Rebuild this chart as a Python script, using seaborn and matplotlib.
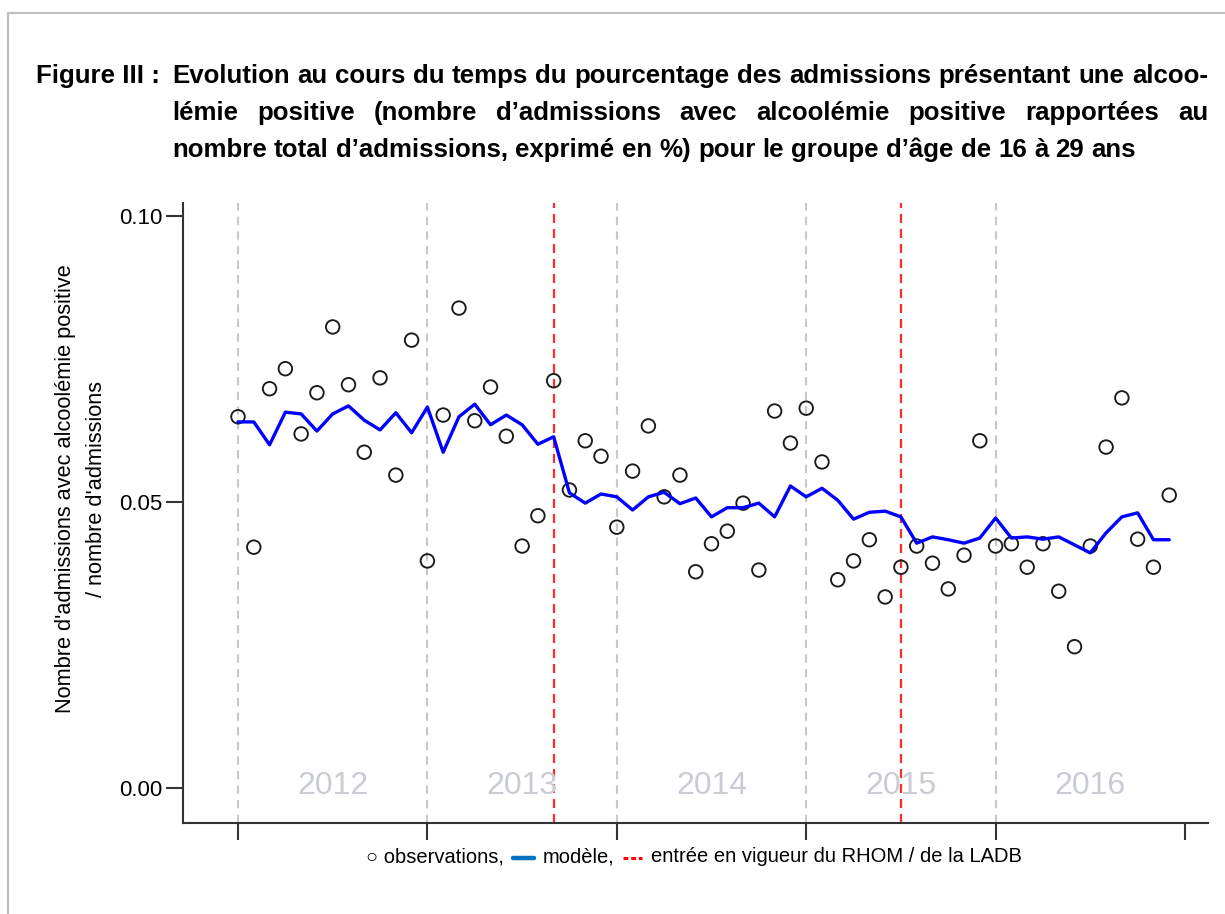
import numpy as np
import pandas as pd
import matplotlib
matplotlib.use("Agg")
import matplotlib.pyplot as plt
import seaborn as sns
from matplotlib.lines import Line2D

# ---------------- data ----------------
months = np.arange(60)  # Jan 2012 ... Dec 2016 (monthly)
observations = [0.0649, 0.0421, 0.0698, 0.0733, 0.0619, 0.0691, 0.0806, 0.0705, 0.0587, 0.0717,
                0.0547, 0.0783, 0.0397, 0.0652, 0.0839, 0.0642, 0.0701, 0.0615, 0.0423, 0.0476,
                0.0712, 0.0521, 0.0607, 0.0580, 0.0456, 0.0554, 0.0633, 0.0509, 0.0547, 0.0378,
                0.0427, 0.0449, 0.0498, 0.0381, 0.0659, 0.0603, 0.0664, 0.0570, 0.0364, 0.0397,
                0.0434, 0.0334, 0.0386, 0.0423, 0.0393, 0.0348, 0.0407, 0.0607, 0.0423, 0.0427,
                0.0386, 0.0427, 0.0344, 0.0247, 0.0423, 0.0596, 0.0682, 0.0435, 0.0386, 0.0512]
model = [0.0640, 0.0640, 0.0600, 0.0657, 0.0654, 0.0624, 0.0654, 0.0668, 0.0643, 0.0626,
         0.0656, 0.0621, 0.0666, 0.0587, 0.0649, 0.0671, 0.0635, 0.0652, 0.0635, 0.0601,
         0.0614, 0.0516, 0.0498, 0.0514, 0.0509, 0.0486, 0.0509, 0.0517, 0.0497, 0.0507,
         0.0474, 0.0490, 0.0490, 0.0498, 0.0474, 0.0528, 0.0509, 0.0524, 0.0503, 0.0470,
         0.0482, 0.0484, 0.0474, 0.0428, 0.0439, 0.0434, 0.0428, 0.0437, 0.0472, 0.0437,
         0.0439, 0.0435, 0.0439, 0.0425, 0.0411, 0.0446, 0.0474, 0.0481, 0.0434, 0.0434]
year_labels = ["2012", "2013", "2014", "2015", "2016"]
year_ticks = [2012, 2013, 2014, 2015, 2016, 2017]
y_ticks = [0.00, 0.05, 0.10]
y_tick_labels = ["0.00", "0.05", "0.10"]
law_dates = [2013 + 8 / 12, 2015 + 6 / 12]  # entrée en vigueur RHOM / LADB

title_prefix = "Figure III :"
title_lines = ["Evolution au cours du temps du pourcentage des admissions présentant une alcoo-",
               "lémie positive (nombre d’admissions avec alcoolémie positive rapportées au",
               "nombre total d’admissions, exprimé en %) pour le groupe d’âge de 16 à 29 ans"]
ylabel = "Nombre d'admissions avec alcoolémie positive\n/ nombre d'admissions"

df = pd.DataFrame({"time": 2012 + months / 12, "obs": observations, "model": model})

# ---------------- style ----------------
sns.set_theme(style="white")
plt.rcParams["font.family"] = ["Liberation Sans", "DejaVu Sans"]
plt.rcParams["lines.scale_dashes"] = False

W, H = 1225, 914
fig = plt.figure(figsize=(W / 100, H / 100), dpi=100)
fig.patch.set_facecolor("white")
renderer = fig.canvas.get_renderer()

ax = fig.add_axes([183 / W, 1 - 823 / H, (1208 - 183) / W, (823 - 203) / H])
ax.set_facecolor("white")

for yt in year_ticks[:-1]:
    ax.axvline(yt, color="#c8c8c8", lw=1.5, dashes=(6, 4.5), zorder=1)
for d in law_dates:
    ax.axvline(d, color="#ff2a2a", lw=1.6, dashes=(6.5, 4.3), zorder=1)
for yt, lab in zip(year_ticks[:-1], year_labels):
    ax.text(yt + 0.5, 0.0003, lab, ha="center", va="center", fontsize=23,
            color="#c9ccd2", zorder=1)

sns.scatterplot(data=df, x="time", y="obs", ax=ax, marker="o", s=95,
                facecolor="none", edgecolor="#1a1a1a", linewidth=1.35, zorder=3)
sns.lineplot(data=df, x="time", y="model", ax=ax, color="#0000ff", lw=2.4, zorder=4)

ax.set_xlim(2011.7096, 2017.1214)
ax.set_ylim(-0.00612, 0.10227)
ax.set_xticks(year_ticks)
ax.set_xticklabels([])
ax.set_yticks(y_ticks)
ax.set_yticklabels(y_tick_labels)
ax.set_xlabel("")
ax.set_ylabel("")
for s in ["top", "right"]:
    ax.spines[s].set_visible(False)
for s in ["left", "bottom"]:
    ax.spines[s].set_color("#333333")
    ax.spines[s].set_linewidth(1.5)
ax.tick_params(axis="both", which="major", bottom=True, left=True, direction="out",
               length=12, width=1.5, color="#333333",
               labelsize=16, labelcolor="black", pad=3)

# y label
fig.text(81 / W, 1 - 489 / H, ylabel, rotation=90, ha="center", va="center",
         multialignment="center", fontsize=15.7, linespacing=1.6, color="black")

# ---------------- helpers for text layout ----------------
def measure(s, **kw):
    t = fig.text(0, 0, s, **kw)
    w = t.get_window_extent(renderer=renderer).width
    t.remove()
    return w

def put(x, y, s, **kw):
    return fig.text(x / W, 1 - y / H, s, **kw)

# ---------------- title (justified) ----------------
tkw = dict(fontweight="bold", color="black")
words1 = title_lines[0].split()
ref_words = sum(measure(w, fontsize=10, **tkw) for w in words1)
ref_space = measure("a a", fontsize=10, **tkw) - measure("aa", fontsize=10, **tkw)
left_x, right_x = 172, 1208
ts = 10 * (right_x - left_x) / (ref_words + ref_space * (len(words1) - 1))
space = ref_space * ts / 10

put(36, 83, title_prefix, fontsize=ts, ha="left", va="baseline", **tkw)
baselines = [83, 120, 157]
for i, (line, yb) in enumerate(zip(title_lines, baselines)):
    words = line.split()
    widths = [measure(w, fontsize=ts, **tkw) for w in words]
    if i < 2:
        gap = (right_x - left_x - sum(widths)) / (len(words) - 1)
    else:
        gap = space
    x = left_x
    for w, wd in zip(words, widths):
        put(x, yb, w, fontsize=ts, ha="left", va="baseline", **tkw)
        x += wd + gap

# ---------------- legend line ----------------
lfs = 14.5
lkw = dict(fontsize=lfs, color="black")
p1 = "○ observations,"
p2 = "modèle,"
p3 = "entrée en vigueur du RHOM / de la LADB"
w1, w2, w3 = measure(p1, **lkw), measure(p2, **lkw), measure(p3, **lkw)
bar_w, dash_w, gap = 21, 19, 9
total = w1 + gap + bar_w + gap + w2 + gap + dash_w + gap + w3
x = 694 - total / 2
yl = 857
put(x, yl, p1, ha="left", va="center", **lkw)
x += w1 + gap
fig.add_artist(Line2D([x / W, (x + bar_w) / W], [1 - (yl + 1) / H] * 2,
                      color="#0070c0", lw=3.2, transform=fig.transFigure))
x += bar_w + gap
put(x, yl, p2, ha="left", va="center", **lkw)
x += w2 + gap
fig.add_artist(Line2D([x / W, (x + dash_w) / W], [1 - (yl + 1) / H] * 2,
                      color="#ff0000", lw=2.2, dashes=(3.5, 2),
                      transform=fig.transFigure))
x += dash_w + gap
put(x, yl, p3, ha="left", va="center", **lkw)

# ---------------- frame ----------------
fig.add_artist(Line2D([8 / W, 8 / W], [1 - 13 / H, 0], color="#c0c0c0", lw=1.6,
                      transform=fig.transFigure))
fig.add_artist(Line2D([8 / W, 1], [1 - 13 / H, 1 - 13 / H], color="#c0c0c0", lw=1.6,
                      transform=fig.transFigure))

fig.savefig("out.png", dpi=100, facecolor="white")
